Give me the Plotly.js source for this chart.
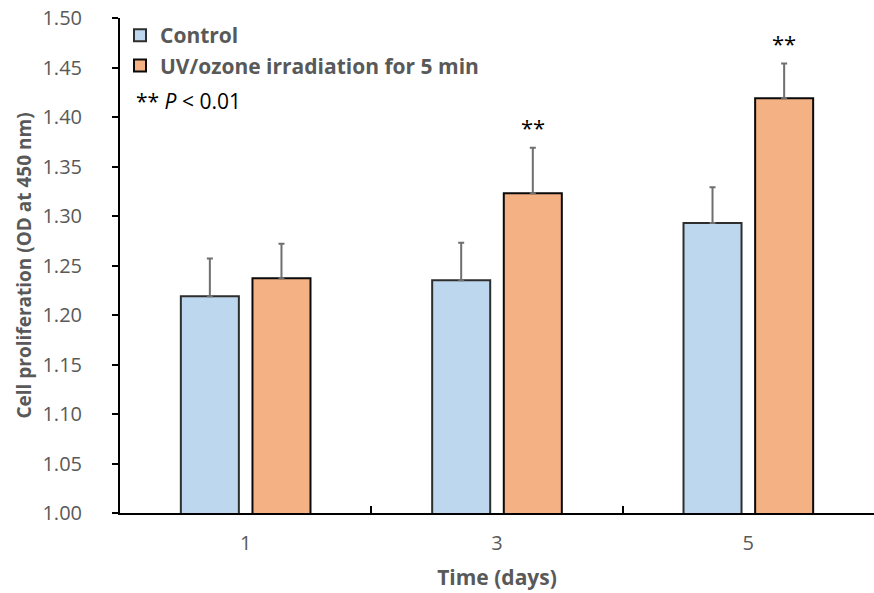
<!DOCTYPE html>
<html>
<head>
<meta charset="utf-8">
<script src="https://cdn.plot.ly/plotly-3.0.1.min.js"></script>
<style>
  html, body { margin: 0; padding: 0; background: #ffffff; }
  #chart { width: 874px; height: 593px; }
</style>
</head>
<body>
<div id="chart"></div>
<script>
// Time points (days)
const days = ["1", "3", "5"];

// Mean OD at 450 nm and standard deviations
const controlOD = [1.219, 1.235, 1.293];
const controlSD = [0.038, 0.038, 0.036];
const uvOD = [1.237, 1.323, 1.419];
const uvSD = [0.035, 0.046, 0.035];

// Significance marks per time point for the UV/ozone group
const uvSignif = ["", "**", "**"];

const FONT = "'Open Sans', 'Noto Sans', sans-serif";
const GREY = "#595959";

const zeros = days.map(() => 0);

const traces = [
  {
    type: "bar",
    name: "<b>Control</b>",
    x: days,
    y: controlOD,
    marker: { color: "#BDD7EE", line: { color: "#2e2e2e", width: 2 } },
    error_y: {
      type: "data", array: controlSD, arrayminus: zeros, symmetric: false,
      color: "#6f6f6f", thickness: 2, width: 3
    }
  },
  {
    type: "bar",
    name: "<b>UV/ozone irradiation for 5 min</b>",
    x: days,
    y: uvOD,
    marker: { color: "#F4B183", line: { color: "#0a0a0a", width: 2 } },
    error_y: {
      type: "data", array: uvSD, arrayminus: zeros, symmetric: false,
      color: "#6f6f6f", thickness: 2, width: 3
    }
  }
];

// Stars above the UV/ozone error bars (right-hand bar in each group);
// x is the category index on the category axis
const starNotes = days
  .map((d, i) => i)
  .filter(i => uvSignif[i])
  .map(i => ({
    x: i, xref: "x",
    y: uvOD[i] + uvSD[i], yref: "y",
    text: uvSignif[i],
    showarrow: false,
    xshift: 36, yshift: 4,
    yanchor: "bottom",
    font: { family: FONT, size: 22, color: "#000000" }
  }));

const layout = {
  width: 874,
  height: 593,
  margin: { l: 120, r: 0, t: 18, b: 80 },
  paper_bgcolor: "#ffffff",
  plot_bgcolor: "#ffffff",
  barmode: "group",
  bargap: 0.43,
  bargroupgap: 0.19,
  font: { family: FONT, color: GREY },
  showlegend: true,
  legend: {
    x: 0.0, y: 1.006, xanchor: "left", yanchor: "top",
    bgcolor: "rgba(0,0,0,0)",
    font: { family: FONT, size: 21, color: GREY },
    itemclick: false
  },
  xaxis: {
    type: "category",
    range: [-0.5, 2.5],
    showline: true, linecolor: "#000000", linewidth: 2,
    ticks: "inside", tickson: "boundaries", ticklen: 7, tickwidth: 2, tickcolor: "#000000",
    ticklabelstandoff: 11,
    tickfont: { family: FONT, size: 20, color: GREY },
    showgrid: false, zeroline: false,
    title: { text: "<b>Time (days)</b>", font: { family: FONT, size: 21, color: GREY }, standoff: 15 }
  },
  yaxis: {
    range: [1.0, 1.5],
    dtick: 0.05, tick0: 1.0,
    tickformat: ".2f",
    showline: true, linecolor: "#000000", linewidth: 2,
    ticks: "outside", ticklen: 6, tickwidth: 2, tickcolor: "#000000",
    ticklabelstandoff: 26,
    tickfont: { family: FONT, size: 20, color: GREY },
    showgrid: false, zeroline: false,
    title: { text: "<b>Cell proliferation (OD at 450 nm)</b>", font: { family: FONT, size: 19, color: GREY }, standoff: 6 }
  },
  annotations: [
    {
      x: 0.018, xref: "paper", y: 0.832, yref: "paper",
      xanchor: "left", yanchor: "middle",
      text: "** <i>P</i> &lt; 0.01",
      showarrow: false,
      font: { family: FONT, size: 21, color: "#000000" }
    }
  ].concat(starNotes)
};

Plotly.newPlot("chart", traces, layout, { displayModeBar: false, staticPlot: true });
</script>
</body>
</html>
